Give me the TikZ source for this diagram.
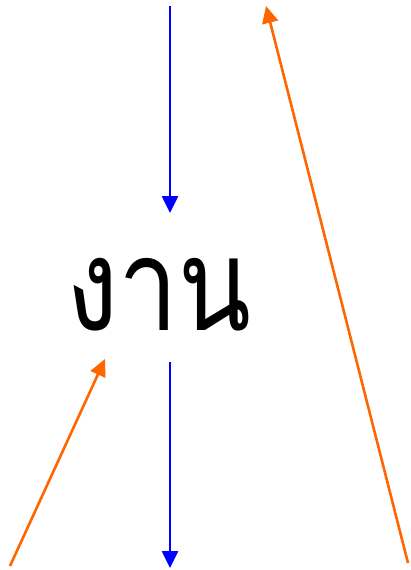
\documentclass[tikz,border=0pt]{standalone}
\usepackage{fontspec}
\newfontfamily\thaifont[Script=Thai]{Loma}
\usetikzlibrary{arrows.meta}
\definecolor{myorange}{RGB}{255,102,0}
\tikzset{
  arr/.style={line width=2.6pt,-{Triangle[length=17pt,width=16pt]}},
  bluearr/.style={arr,draw=blue},
  orarr/.style={arr,draw=myorange},
}
\begin{document}
\begin{tikzpicture}[x=1pt,y=-1pt]
\useasboundingbox (0,0) rectangle (410,570);
\node (word) at (159,295) {\scalebox{0.97}[1.17]{\thaifont\fontsize{110}{120}\selectfont งาน}};
\coordinate (b1s) at (170,6);
\coordinate (b1e) at (170,213);
\coordinate (b2s) at (170,362);
\coordinate (b2e) at (170,568);
\coordinate (o1s) at (10,566);
\coordinate (o1e) at (105,359);
\coordinate (o2s) at (408,563);
\coordinate (o2e) at (266,6);
\draw[bluearr] (b1s) -- (b1e);
\draw[bluearr] (b2s) -- (b2e);
\draw[orarr] (o1s) -- (o1e);
\draw[orarr] (o2s) -- (o2e);
\end{tikzpicture}
\end{document}
